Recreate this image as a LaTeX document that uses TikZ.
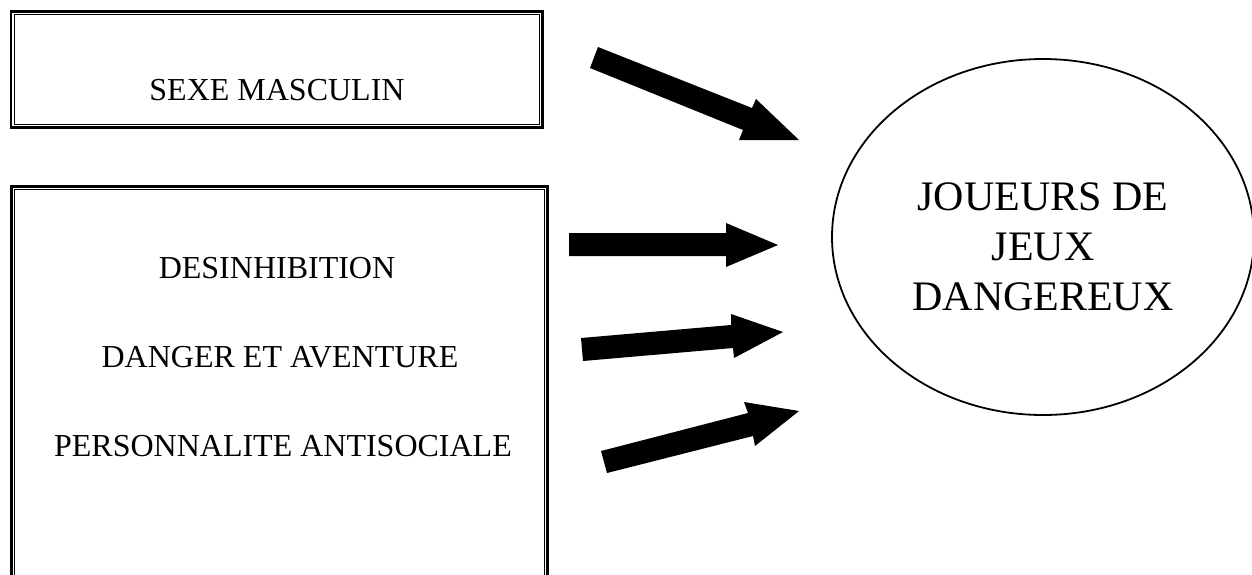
\documentclass[tikz,border=0pt]{standalone}
\usepackage{fontspec}
\setmainfont{Liberation Serif}
\usetikzlibrary{shapes.geometric}
\begin{document}
\begin{tikzpicture}[x=1pt,y=-1pt,
  outerline/.style={line width=2.8pt},
  innerline/.style={line width=1pt},
  lbl/.style={font=\fontsize{32}{38}\selectfont, inner sep=0pt, anchor=center},
  biglbl/.style={font=\fontsize{42}{50}\selectfont, inner sep=0pt, align=center},
  blockarrow/.style={fill=black, draw=none}]
\useasboundingbox (0,0) rectangle (1252,574);
\begin{scope}
\clip (0,0) rectangle (1252,574);
% top box
\draw[outerline] (10.9,11.4) rectangle (542.6,127.3);
\draw[innerline] (14.2,14.7) rectangle (539.3,124.0);
% bottom box
\draw[outerline] (11.4,186.4) rectangle (547.6,600);
\draw[innerline] (14.7,189.7) rectangle (544.3,596);
% ellipse
\node[ellipse, draw, line width=1.8pt, minimum width=422pt, minimum height=356pt, inner sep=0pt] (goal) at (1043,237) {};
\end{scope}
\node[lbl] (sexe) at (277,90) {SEXE MASCULIN};
\node[lbl] (desin) at (277,268) {DESINHIBITION};
\node[lbl] (danger) at (280,357) {DANGER ET AVENTURE};
\node[lbl] (perso) at (283,446) {PERSONNALITE ANTISOCIALE};
\node[biglbl] (jeux) at (1043,247) {JOUEURS DE\\JEUX\\DANGEREUX};
% arrows
\coordinate (a1t1) at (598,47); \coordinate (a1s1) at (752,108); \coordinate (a1b1) at (756,99);
\coordinate (a1tip) at (799,140); \coordinate (a1b2) at (739,140); \coordinate (a1s2) at (743,130);
\coordinate (a1t2) at (590,68);
\fill[blockarrow] (a1t1) -- (a1s1) -- (a1b1) -- (a1tip) -- (a1b2) -- (a1s2) -- (a1t2) -- cycle;
\coordinate (a2t1) at (569,233); \coordinate (a2s1) at (726,233); \coordinate (a2b1) at (726,223);
\coordinate (a2tip) at (778,245); \coordinate (a2b2) at (726,267); \coordinate (a2s2) at (726,256);
\coordinate (a2t2) at (569,256);
\fill[blockarrow] (a2t1) -- (a2s1) -- (a2b1) -- (a2tip) -- (a2b2) -- (a2s2) -- (a2t2) -- cycle;
\coordinate (a3t1) at (581,338); \coordinate (a3s1) at (731,325); \coordinate (a3b1) at (731,314);
\coordinate (a3tip) at (783,332); \coordinate (a3b2) at (734,358); \coordinate (a3s2) at (733,348);
\coordinate (a3t2) at (583,361);
\fill[blockarrow] (a3t1) -- (a3s1) -- (a3b1) -- (a3tip) -- (a3b2) -- (a3s2) -- (a3t2) -- cycle;
\coordinate (a4t1) at (601,451); \coordinate (a4s1) at (748,413); \coordinate (a4b1) at (744,402);
\coordinate (a4tip) at (799,411); \coordinate (a4b2) at (755,446); \coordinate (a4s2) at (753,436);
\coordinate (a4t2) at (607,473);
\fill[blockarrow] (a4t1) -- (a4s1) -- (a4b1) -- (a4tip) -- (a4b2) -- (a4s2) -- (a4t2) -- cycle;
\end{tikzpicture}
\end{document}
